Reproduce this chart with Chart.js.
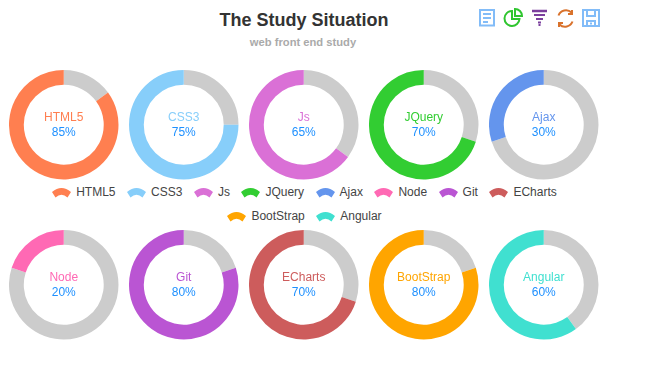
<!DOCTYPE html>
<html>
<head>
<meta charset="utf-8">
<title>The Study Situation</title>
<script src="https://cdn.jsdelivr.net/npm/chart.js@4"></script>
<style>
  html, body { margin: 0; padding: 0; background: #fff; }
  body { width: 645px; height: 374px; position: relative; overflow: hidden; font-family: "Liberation Sans", Arial, sans-serif; }
  #title { position: absolute; left: 0; width: 608px; top: 10px; text-align: center; font-size: 18px; line-height: 20px; font-weight: bold; color: #333; }
  #subtitle { position: absolute; left: 0; width: 606px; top: 35px; text-align: center; font-size: 11.2px; line-height: 14px; font-weight: bold; color: #aaa; }
  .ring { position: absolute; width: 110px; height: 110px; }
  #legend { position: absolute; left: 44px; top: 185px; width: 521px; display: flex; flex-wrap: wrap; justify-content: center; column-gap: 11.5px; row-gap: 10px; }
  .item { display: flex; align-items: center; height: 14px; font-size: 12px; line-height: 14px; color: #444; }
  .item svg { margin-right: 5px; }
  #tools { position: absolute; left: 0; top: 0; }
</style>
</head>
<body>
<div id="title"></div>
<div id="subtitle"></div>
<svg id="tools" width="645" height="40" fill="none" stroke-width="2">
  <g stroke="#82bcf8">
    <rect x="480" y="10" width="14" height="15.500"/>
    <path d="M483 14h8M483 18h8M483 22h5"/>
  </g>
  <g stroke="#2fc52f">
    <path d="M512 11a7.500 7.500 0 1 0 7.500 8h-7.500z"/>
    <path d="M515 9v7h7a7 7 0 0 0-7-7z"/>
  </g>
  <g stroke="#7b3f9d">
    <path d="M532 11h15" stroke-width="2.500"/>
    <path d="M534 15h11M536 19h7M538 22.500h3M538.500 25h2"/>
  </g>
  <g stroke="#d9722c">
    <path d="M558.500 15.500a8 8 0 0 1 13-3M572.500 21.500a8 8 0 0 1-13 3"/>
    <path d="M572 10v4h-4M559 27v-4h4"/>
  </g>
  <g stroke="#82bcf8">
    <rect x="583" y="10" width="16" height="16"/>
    <path d="M587 10v6h8v-6M587 26v-5h8v5"/>
    <path d="M590 23.500h2"/>
  </g>
</svg>
<canvas class="ring" id="r0"></canvas>
<canvas class="ring" id="r1"></canvas>
<canvas class="ring" id="r2"></canvas>
<canvas class="ring" id="r3"></canvas>
<canvas class="ring" id="r4"></canvas>
<canvas class="ring" id="r5"></canvas>
<canvas class="ring" id="r6"></canvas>
<canvas class="ring" id="r7"></canvas>
<canvas class="ring" id="r8"></canvas>
<canvas class="ring" id="r9"></canvas>
<div id="legend"></div>
<script>
const chartTitle = "The Study Situation";
const chartSubtitle = "web front end study";
const skills = ["HTML5", "CSS3", "Js", "JQuery", "Ajax", "Node", "Git", "ECharts", "BootStrap", "Angular"];
const percents = [85, 75, 65, 70, 30, 20, 80, 70, 80, 60];
const colors = ["#ff7f50", "#87cefa", "#da70d6", "#32cd32", "#6495ed", "#ff69b4", "#ba55d3", "#cd5c5c", "#ffa500", "#40e0d0"];

document.getElementById("title").textContent = chartTitle;
document.getElementById("subtitle").textContent = chartSubtitle;

// writes the name and percent in the hole of each ring
const centerText = {
  id: "centerText",
  afterDraw(chart) {
    const i = chart.options.plugins.centerText.index;
    const ctx = chart.ctx;
    const area = chart.chartArea;
    const x = (area.left + area.right) / 2;
    const y = (area.top + area.bottom) / 2;
    ctx.save();
    ctx.font = '12px "Liberation Sans", Arial, sans-serif';
    ctx.textAlign = "center";
    ctx.textBaseline = "middle";
    ctx.fillStyle = colors[i];
    ctx.fillText(skills[i], x, y - 6.75);
    ctx.fillStyle = "#1e90ff";
    ctx.fillText(percents[i] + "%", x, y + 8.25);
    ctx.restore();
  }
};

skills.forEach((name, i) => {
  const canvas = document.getElementById("r" + i);
  canvas.style.left = (9 + (i % 5) * 120) + "px";
  canvas.style.top = (i < 5 ? 70 : 230) + "px";
  new Chart(canvas, {
    type: "doughnut",
    data: {
      labels: ["other", name],
      datasets: [{
        data: [100 - percents[i], percents[i]],
        backgroundColor: ["#ccc", colors[i]],
        borderWidth: 0,
        hoverOffset: 0
      }]
    },
    options: {
      responsive: false,
      animation: false,
      cutout: "73%",
      layout: { padding: { right: 0.5, bottom: 0.5 } },
      plugins: { legend: { display: false }, tooltip: { enabled: false }, centerText: { index: i } }
    },
    plugins: [centerText]
  });
});

const legend = document.getElementById("legend");
skills.forEach((name, i) => {
  const item = document.createElement("div");
  item.className = "item";
  item.innerHTML = `<svg width="19" height="14"><path d="M0 7Q9.500 -1 19 7L15.500 12.500Q9.500 7 3.500 12.500Z" fill="${colors[i]}"/></svg>`;
  item.appendChild(document.createTextNode(name));
  legend.appendChild(item);
});
</script>
</body>
</html>
